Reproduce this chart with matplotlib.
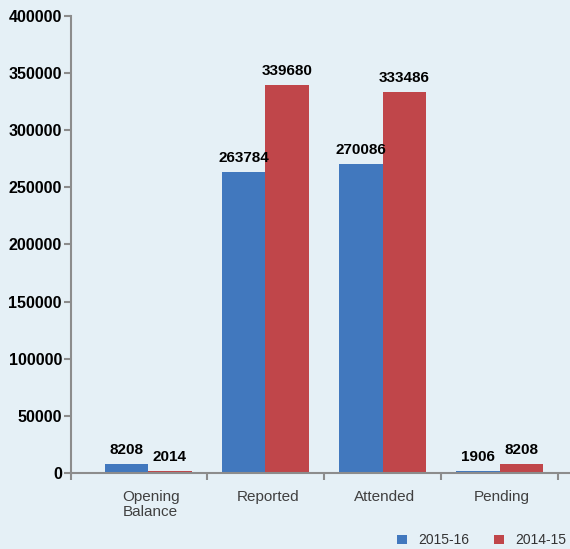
import matplotlib
matplotlib.use("Agg")
import matplotlib.pyplot as plt
import numpy as np

plt.rcParams['font.family'] = ['Liberation Sans', 'DejaVu Sans']

categories = ["Opening\nBalance", "Reported", "Attended", "Pending"]
series_2015 = [8208, 263784, 270086, 1906]
series_2014 = [2014, 339680, 333486, 8208]
y_ticks = [0, 50000, 100000, 150000, 200000, 250000, 300000, 350000, 400000]

bg = '#e5f0f6'
blue = '#4178be'
red = '#c0464a'
spine = '#8c8c8c'

fig = plt.figure(figsize=(5.7, 5.49), dpi=100, facecolor=bg)
ax = fig.add_axes([0.1246, 0.1384, 0.8754, 0.8325])
ax.set_facecolor(bg)

x = np.arange(len(categories))
w = 0.37
b1 = ax.bar(x - w / 2, series_2015, w, color=blue, label='2015-16')
b2 = ax.bar(x + w / 2, series_2014, w, color=red, label='2014-15')

for bars, vals in ((b1, series_2015), (b2, series_2014)):
    for bar, v in zip(bars, vals):
        ax.annotate(str(v), (bar.get_x() + bar.get_width() / 2, v),
                    xytext=(0, 5), textcoords='offset points',
                    ha='center', va='bottom', fontsize=11, fontweight='bold')

ax.set_ylim(0, 400000)
ax.set_xlim(-0.66, 3.6)
ax.set_yticks(y_ticks)
ax.set_yticklabels([str(t) for t in y_ticks], fontsize=11.5, fontweight='bold')

# category labels between boundary ticks
ax.set_xticks(x + 0.02, minor=True)
ax.set_xticklabels(categories, minor=True, fontsize=11, color='#404040',
                   linespacing=1.1)
ax.tick_params(axis='x', which='minor', length=0, pad=12)
ax.set_xticks([-0.66, 0.5, 1.5, 2.5, 3.5])
ax.set_xticklabels([])
ax.tick_params(axis='x', which='major', length=5, color=spine, width=1.5)
ax.tick_params(axis='y', length=5, color=spine, width=1.5, pad=1.5)

for s in ('top', 'right'):
    ax.spines[s].set_visible(False)
for s in ('left', 'bottom'):
    ax.spines[s].set_color(spine)
    ax.spines[s].set_linewidth(1.5)

leg = fig.legend(handles=[b1, b2], loc='lower right', bbox_to_anchor=(1.015, -0.02),
                 ncol=2, frameon=False, fontsize=10, handlelength=0.7,
                 handleheight=0.7, handletextpad=0.8, columnspacing=1.8)
for t in leg.get_texts():
    t.set_color('#333333')

fig.savefig('out.png', dpi=100, facecolor=bg)
